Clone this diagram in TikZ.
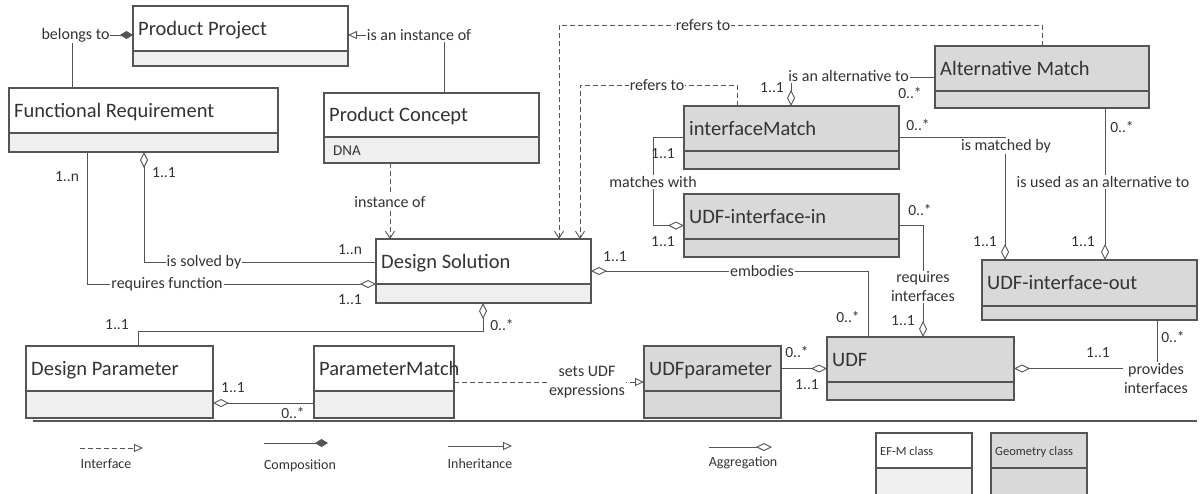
\documentclass[tikz,border=0pt]{standalone}
\usepackage{fontspec}
\setmainfont{Carlito}
\usetikzlibrary{arrows.meta,calc}
\definecolor{ln}{HTML}{555555}
\definecolor{tx}{HTML}{333333}
\definecolor{geo}{HTML}{D9D9D9}
\definecolor{efm}{HTML}{EFEFEF}
\tikzset{
  boxframe/.style={draw=ln, line width=1.1pt, inner sep=0pt, outer sep=0pt, anchor=north west},
  ttl/.style={text=tx, font=\fontsize{20.5}{24}\selectfont, anchor=base west, inner sep=0pt},
  conn/.style={draw=ln, line width=0.9pt},
  lbl/.style={fill=white, text=tx, font=\fontsize{16}{19}\selectfont, inner sep=1pt, align=center},
  mult/.style={text=tx, font=\fontsize{15.5}{17}\selectfont, inner sep=0pt},
  lgd/.style={text=tx, font=\fontsize{14}{16}\selectfont, inner sep=0pt},
  lgdbox/.style={text=tx, font=\fontsize{12.5}{14}\selectfont, inner sep=0pt, anchor=base west},
  aggE/.style={-{Diamond[fill=white, length=16pt, width=8pt]}},
  compE/.style={-{Diamond[length=13pt, width=8pt]}},
  triE/.style={-{Triangle[fill=white, length=9pt, width=8pt]}},
  vE/.style={-{Straight Barb[length=7pt, width=9pt]}},
  dsh/.style={dash pattern=on 5pt off 3pt},
}
% name, x1, y1, x2, ydiv, y2, title, top fill, lower fill
\newcommand{\umlcls}[9]{%
  \node[boxframe, fill=#9, minimum width={#4-#2}, minimum height={#6-#3}] (#1) at (#2,#3) {};
  \fill[#8] (#2,#3) rectangle (#4,#5);
  \draw[ln, line width=1.1pt] (#2,#5) -- (#4,#5);
  \draw[ln, line width=1.1pt] (#1.north west) rectangle (#1.south east);
  \node[ttl] (#1-t) at ({#2+5},{(#3+#5)/2+6.6}) {#7};
}
\begin{document}
\begin{tikzpicture}[x=1pt, y=-1pt]
\useasboundingbox (0,0) rectangle (1201,493);
\fill[white] (0,0) rectangle (1201,493);

% ---------- classes ----------
\umlcls{pp}{133}{6}{348}{51}{66}{Product Project}{white}{efm}
\umlcls{fr}{9}{88}{278}{133}{152}{Functional Requirement}{white}{efm}
\umlcls{pc}{324}{93}{539}{137}{163}{Product Concept}{white}{efm}
\node[text=tx, font=\fontsize{15}{17}\selectfont, anchor=base west, inner sep=0pt] (pc-dna) at (333,155.5) {DNA};
\umlcls{ds}{376}{239}{591}{284}{303}{Design Solution}{white}{efm}
\umlcls{im}{684}{106}{899}{151}{169}{interfaceMatch}{geo}{geo}
\umlcls{ui}{684}{194}{899}{239}{257}{UDF-interface-in}{geo}{geo}
\umlcls{am}{935}{46}{1149}{91}{108}{Alternative Match}{geo}{geo}
\umlcls{uo}{982}{260}{1197}{306}{320}{UDF-interface-out}{geo}{geo}
\umlcls{udf}{827}{337}{1014}{382}{400}{UDF}{geo}{geo}
\umlcls{udfp}{644}{346}{781}{391}{418}{UDFparameter}{geo}{geo}
\umlcls{dp}{26}{346}{213}{391}{418}{Design Parameter}{white}{efm}
\umlcls{pm}{314}{346}{454}{391}{418}{ParameterMatch}{white}{efm}

% ---------- connectors ----------
\draw[conn, compE] ([xshift=63pt]fr.north west) |- ([yshift=1pt]pp.west);
\draw[conn, triE] ([xshift=120pt]pc.north west) |- ([yshift=1pt]pp.east);
\draw[conn, dsh, vE] ([xshift=66pt]pc.south west) -- ([xshift=14pt]ds.north west);
\draw[conn, dsh, vE] ([xshift=107pt]am.north west) -- ++(0,-21) -| ([xshift=183pt]ds.north west);
\draw[conn, dsh, vE] ([xshift=53pt]im.north west) -- ++(0,-21) -| ([xshift=204pt]ds.north west);
\draw[conn, aggE] (am.west) -| ([xshift=107pt]im.north west);
\draw[conn, aggE] (im.east) -| ([xshift=23pt]uo.north west);
\draw[conn, aggE] ([xshift=-44pt]am.south east) -- ([xshift=123pt]uo.north west);
\draw[conn, aggE] (im.west) -- ++(-31,0) |- (ui.west);
\draw[conn, aggE] ([xshift=41pt]udf.north west) |- (ds.east);
\draw[conn, aggE] (ui.east) -| ([xshift=96pt]udf.north west);
\draw[conn, aggE] ([xshift=175pt]uo.south west) |- (udf.east);
\draw[conn, aggE] ([yshift=9pt]ds.west) -| ([xshift=135pt]fr.south west);
\draw[conn, aggE] ([xshift=78pt]fr.south west) |- ([yshift=-13pt]ds.west);
\draw[conn, aggE] ([xshift=112pt]dp.north west) -- ++(0,-15) -| ([xshift=107pt]ds.south west);
\draw[conn, aggE] ([yshift=-21pt]pm.west) -- ([yshift=-21pt]dp.east);
\draw[conn, dsh, triE] (pm.east) -- (udfp.west);
\draw[conn, aggE] (udfp.east |- udf.west) -- (udf.west);

% ---------- connector labels ----------
\node[lbl] (l1) at (75.5,35) {belongs to};
\node[lbl] (l2) at (419,35) {is an instance of};
\node[lbl] (l3) at (390,202) {instance of};
\node[lbl] (l4) at (703,25) {refers to};
\node[lbl] (l5) at (657,85) {refers to};
\node[lbl] (l6) at (848.5,76) {is an alternative to};
\node[lbl] (l7) at (1006,146) {is matched by};
\node[lbl] (l8) at (1103,182) {is used as an alternative to};
\node[lbl] (l9) at (653,182) {matches with};
\node[lbl] (l10) at (762,271) {embodies};
\node[lbl] (l11) at (923,287) {requires\\interfaces};
\node[lbl] (l12) at (1156,378) {provides\\interfaces};
\node[lbl] (l13) at (204,262) {is solved by};
\node[lbl] (l14) at (167,284) {requires function};
\node[lbl] (l15) at (587,382) {sets UDF\\expressions};

% ---------- multiplicities ----------
\node[mult] (m1) at (67,177) {1..n};
\node[mult] (m2) at (164,173) {1..1};
\node[mult] (m3) at (350,250) {1..n};
\node[mult] (m4) at (350,300) {1..1};
\node[mult] (m5) at (615,257) {1..1};
\node[mult] (m6) at (848,317) {0..*};
\node[mult] (m7) at (502,325) {0..*};
\node[mult] (m8) at (117,325) {1..1};
\node[mult] (m9) at (233,388) {1..1};
\node[mult] (m10) at (293,413) {0..*};
\node[mult] (m11) at (797,352) {0..*};
\node[mult] (m12) at (807,385) {1..1};
\node[mult] (m13) at (903,321) {1..1};
\node[mult] (m14) at (920,210) {0..*};
\node[mult] (m15) at (663,154) {1..1};
\node[mult] (m16) at (663,242) {1..1};
\node[mult] (m17) at (772,88) {1..1};
\node[mult] (m18) at (910,93) {0..*};
\node[mult] (m19) at (918,125) {0..*};
\node[mult] (m20) at (985,242) {1..1};
\node[mult] (m21) at (1083,242) {1..1};
\node[mult] (m22) at (1122,127) {0..*};
\node[mult] (m23) at (1173,337) {0..*};
\node[mult] (m24) at (1098,353) {1..1};

% ---------- legend ----------
\draw[ln, line width=1.3pt] (33,421) -- (1197,421);
\draw[conn, dsh, triE] (80,448) -- (143,448);
\node[lgd] (g1) at (106,464) {Interface};
\draw[conn, compE] (264,443) -- (328,443);
\node[lgd] (g2) at (300,466) {Composition};
\draw[conn, triE] (448,446) -- (512,446);
\node[lgd] (g3) at (480,464) {Inheritance};
\draw[conn, aggE] (709,447) -- (772,447);
\node[lgd] (g4) at (743,463) {Aggregation};
\umlcls{lga}{876}{433}{972}{468}{500}{}{white}{efm}
\node[lgdbox] (lga-t2) at (880,455) {EF-M class};
\umlcls{lgb}{991}{433}{1087}{468}{500}{}{geo}{geo}
\node[lgdbox] (lgb-t2) at (995,455) {Geometry class};
\end{tikzpicture}
\end{document}
